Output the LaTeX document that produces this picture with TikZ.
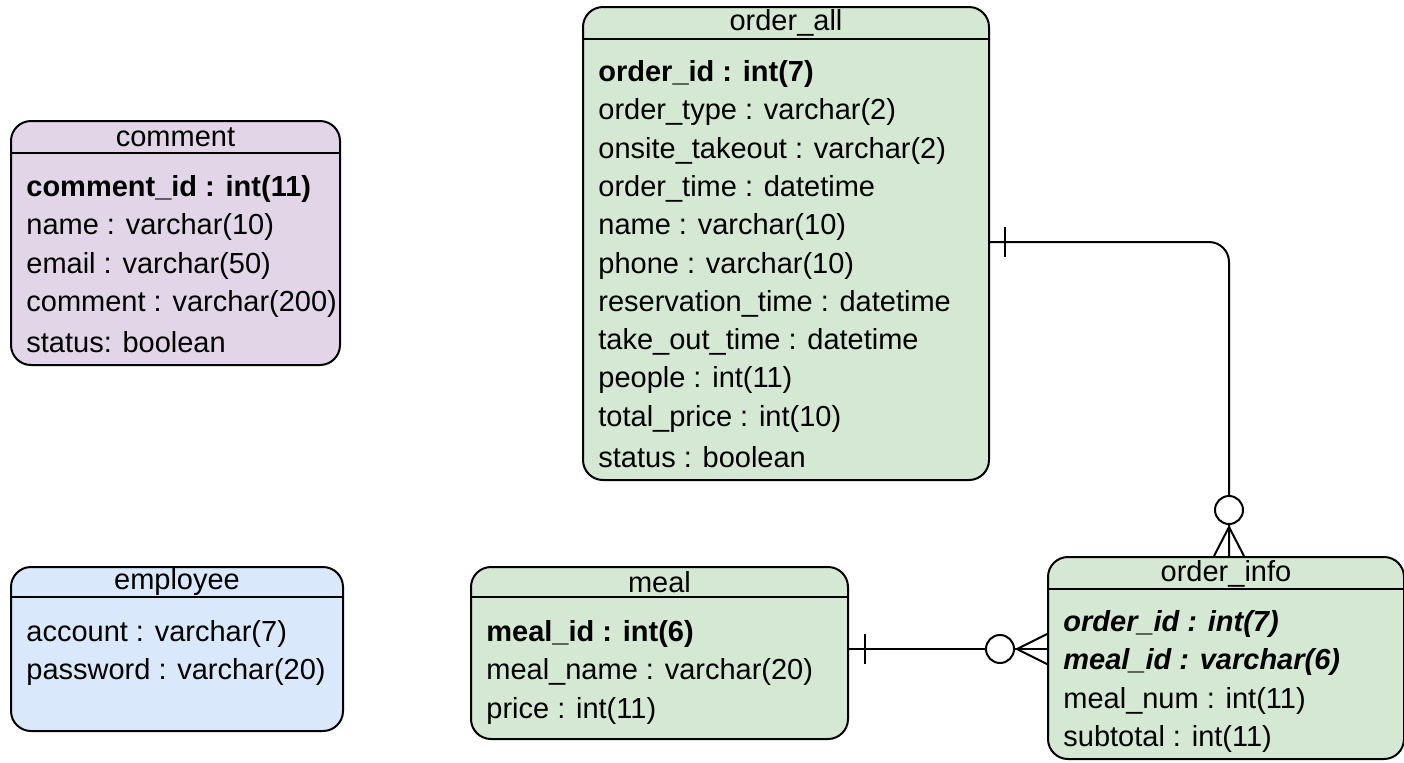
\documentclass[tikz,border=0pt]{standalone}
\usepackage{fontspec}
\setmainfont{Liberation Sans}
\usetikzlibrary{calc}
\usepackage{xcolor}

\definecolor{tblgreen}{HTML}{D5E8D4}
\definecolor{tblpurple}{HTML}{E1D5E7}
\definecolor{tblblue}{HTML}{DAE8FC}

\begin{document}
\begin{tikzpicture}[x=0.5pt,y=-0.5pt,
        table/.style={draw=black, line width=1pt, rounded corners=10pt, anchor=north west, inner sep=0pt},
        title/.style={font=\fontsize{14.5}{17}\selectfont, inner sep=0pt},
        row/.style={font=\fontsize{14.5}{17}\selectfont, anchor=west, inner sep=0pt},
        link/.style={line width=1pt}]
        \useasboundingbox (0,0) rectangle (1404,762);

        % tables
        \node[table, fill=tblpurple, minimum width=164.5pt, minimum height=122pt] (comment) at (10,120) {};
        \node[table, fill=tblgreen, minimum width=203pt, minimum height=236.5pt] (order_all) at (582,6) {};
        \node[table, fill=tblblue, minimum width=166pt, minimum height=82pt] (employee) at (10,566) {};
        \node[table, fill=tblgreen, minimum width=188.5pt, minimum height=86pt] (meal) at (470,566) {};
        \node[table, fill=tblgreen, minimum width=178pt, minimum height=101pt] (order_info) at (1047,556) {};

        % header lines and titles
        \foreach \t/\h in {comment/33,order_all/33,employee/31,meal/31,order_info/33}{
            \draw[link] ($(\t.north west)+(0,\h)$) -- ($(\t.north east)+(0,\h)$);
        }
        \node[title] (comment_title) at ($(comment.north)+(0,17)$) {comment};
        \node[title] (order_all_title) at ($(order_all.north)+(0,17)$) {order\_all};
        \node[title] (employee_title) at ($(employee.north)+(0,16)$) {employee};
        \node[title] (meal_title) at ($(meal.north)+(0,16)$) {meal};
        \node[title] (order_info_title) at ($(order_info.north)+(0,18)$) {order\_info};

        % rows
        \foreach \txt [count=\i from 0] in {{\textbf{comment\_id : int(11)}},name : varchar(10),email : varchar(50),comment : varchar(200),status: boolean}{
            \node[row] (comment_row\i) at ($(comment.north west)+(16,69+38.3*\i)$) {\txt};
        }
        \foreach \txt [count=\i from 0] in {{\textbf{order\_id : int(7)}},order\_type : varchar(2),onsite\_takeout : varchar(2),order\_time : datetime,name : varchar(10),phone : varchar(10),reservation\_time : datetime,take\_out\_time : datetime,people : int(11),total\_price : int(10),status : boolean}{
            \node[row] (order_all_row\i) at ($(order_all.north west)+(16,68+38.3*\i)$) {\txt};
        }
        \foreach \txt [count=\i from 0] in {account : varchar(7),password : varchar(20)}{
            \node[row] (employee_row\i) at ($(employee.north west)+(16,68+38.3*\i)$) {\txt};
        }
        \foreach \txt [count=\i from 0] in {{\textbf{meal\_id : int(6)}},meal\_name : varchar(20),price : int(11)}{
            \node[row] (meal_row\i) at ($(meal.north west)+(16,68+38.3*\i)$) {\txt};
        }
        \foreach \txt [count=\i from 0] in {{\textbf{\textit{order\_id : int(7)}}},{\textbf{\textit{meal\_id : varchar(6)}}},meal\_num : int(11),subtotal : int(11)}{
            \node[row] (order_info_row\i) at ($(order_info.north west)+(16,68+38.3*\i)$) {\txt};
        }

        % order_all -- order_info
        \coordinate (oa) at ($(order_all.north east)+(0,236)$);
        \coordinate (oi) at ($(order_info.north)+(3,0)$);
        \draw[link, rounded corners=10pt] (oa) -| (oi);
        \draw[link] ($(oa)+(15,-15)$) -- ($(oa)+(15,15)$);
        \draw[link, fill=white] ($(oi)+(0,-46)$) circle (7pt);
        \draw[link] ($(oi)+(-15,0)$) -- ($(oi)+(0,-29)$) -- ($(oi)+(15,0)$);

        % meal -- order_info
        \coordinate (me) at ($(meal.north east)+(0,83)$);
        \coordinate (oim) at (me -| order_info.west);
        \draw[link] (me) -- (oim);
        \draw[link] ($(me)+(16,-15)$) -- ($(me)+(16,15)$);
        \draw[link, fill=white] ($(oim)+(-47,0)$) circle (7pt);
        \draw[link] ($(oim)+(0,-15)$) -- ($(oim)+(-30,0)$) -- ($(oim)+(0,15)$);
    \end{tikzpicture}
\end{document}
